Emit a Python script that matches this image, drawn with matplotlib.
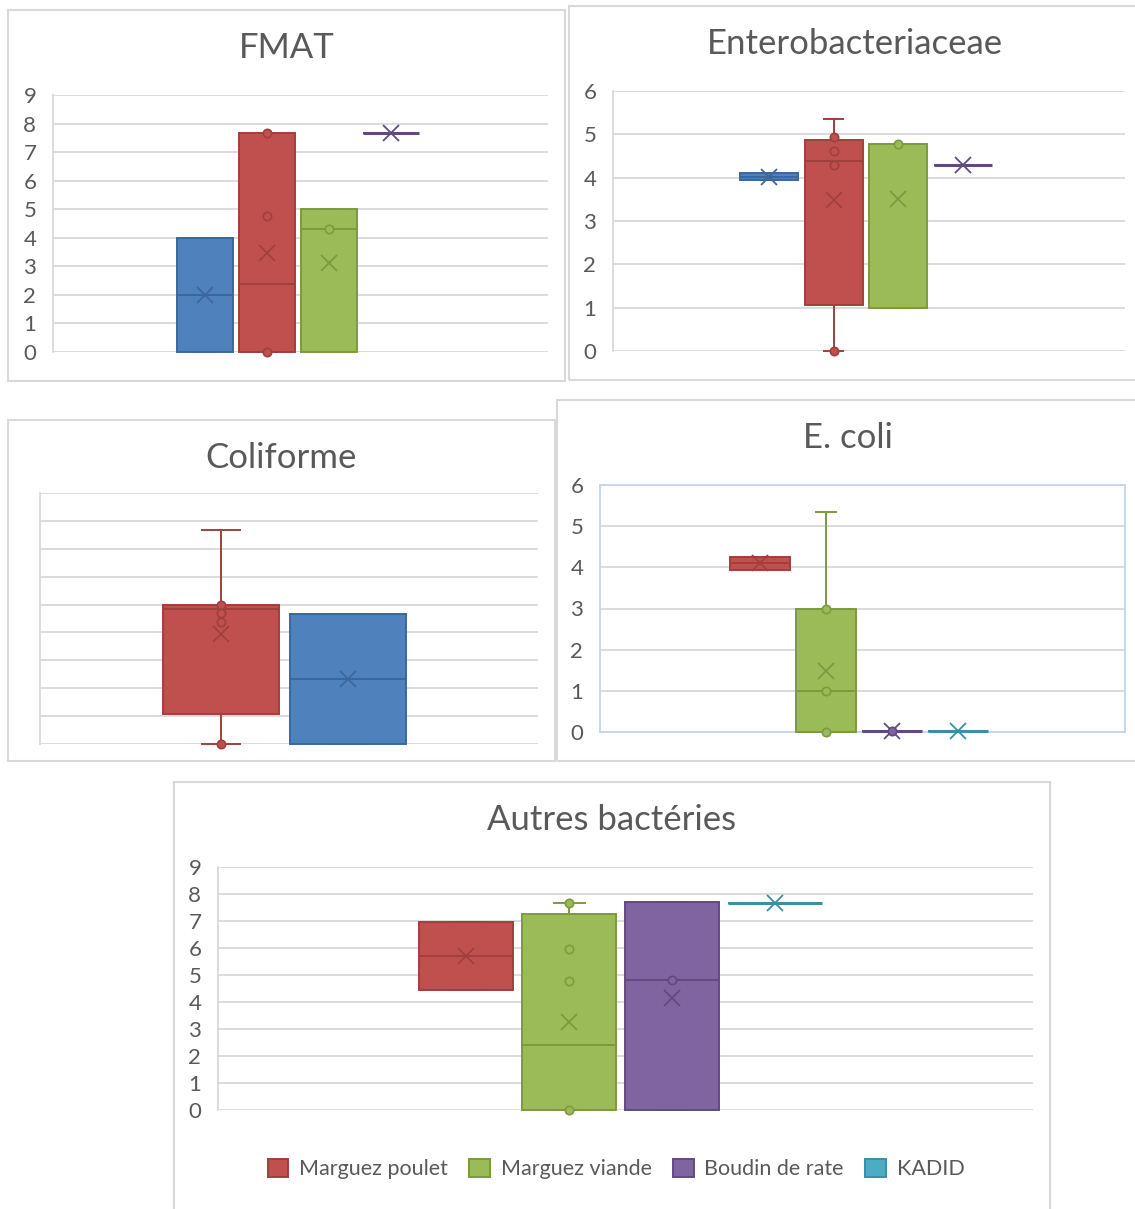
import matplotlib
matplotlib.use("Agg")
import matplotlib.pyplot as plt
from matplotlib.patches import Rectangle, Patch

W, H = 1135, 1209
plt.rcParams["font.family"] = ["Lato", "DejaVu Sans"]

TEXT = "#595959"
GRID = "#D9D9D9"

# fill colour, outline colour
COLORS = {
    "poulet": ("#C0504D", "#A0403D"),
    "viande": ("#9BBB59", "#7C9A3E"),
    "boudin": ("#8064A2", "#614A80"),
    "kadid": ("#4BACC6", "#3A8EA6"),
    "autre": ("#4F81BD", "#3B679C"),
}
legend_keys = ["poulet", "viande", "boudin", "kadid"]
legend_labels = ["Marguez poulet", "Marguez viande", "Boudin de rate", "KADID"]

# FMAT
fmat_series = ["autre", "poulet", "viande", "boudin"]
fmat_q1 = [0.0, 0.0, 0.0, 7.67]
fmat_med = [2.0, 2.37, 4.29, 7.67]
fmat_q3 = [4.0, 7.67, 5.0, 7.67]
fmat_lo = [0.0, 0.0, 0.0, 7.67]
fmat_hi = [4.0, 7.67, 5.0, 7.67]
fmat_mean = [2.0, 3.48, 3.1, 7.67]
fmat_points = [[], [7.67, 4.75, 0.0], [4.29], []]

# Enterobacteriaceae
entero_series = ["autre", "poulet", "viande", "boudin"]
entero_q1 = [3.94, 1.06, 1.0, 4.29]
entero_med = [4.02, 4.38, 4.78, 4.29]
entero_q3 = [4.1, 4.86, 4.78, 4.29]
entero_lo = [3.94, 0.0, 1.0, 4.29]
entero_hi = [4.1, 5.35, 4.78, 4.29]
entero_mean = [4.02, 3.49, 3.5, 4.29]
entero_points = [[], [4.94, 4.62, 4.29, 0.0], [4.78], []]

# Coliforme
colif_series = ["poulet", "autre"]
colif_q1 = [1.09, 0.0]
colif_med = [4.84, 2.34]
colif_q3 = [5.0, 4.65]
colif_lo = [0.0, 0.0]
colif_hi = [7.66, 4.65]
colif_mean = [3.94, 2.34]
colif_points = [[5.0, 4.68, 4.36, 0.0], []]

# E. coli
ecoli_series = ["poulet", "viande", "boudin", "kadid"]
ecoli_q1 = [3.94, 0.0, 0.02, 0.02]
ecoli_med = [4.1, 1.0, 0.02, 0.02]
ecoli_q3 = [4.26, 3.0, 0.02, 0.02]
ecoli_lo = [3.94, 0.0, 0.02, 0.02]
ecoli_hi = [4.26, 5.35, 0.02, 0.02]
ecoli_mean = [4.1, 1.49, 0.02, 0.02]
ecoli_points = [[], [3.0, 1.0, 0.0], [0.02], []]

# Autres bactéries
autres_series = ["poulet", "viande", "boudin", "kadid"]
autres_q1 = [4.43, 0.0, 0.0, 7.66]
autres_med = [5.7, 2.39, 4.82, 7.66]
autres_q3 = [6.98, 7.26, 7.69, 7.66]
autres_lo = [4.43, 0.0, 0.0, 7.66]
autres_hi = [6.98, 7.66, 7.69, 7.66]
autres_mean = [5.69, 3.25, 4.14, 7.66]
autres_points = [[], [7.66, 5.97, 4.76, 0.0], [4.82], []]

fig = plt.figure(figsize=(W / 100, H / 100), dpi=100)


def px_axes(x0, y0, x1, y1):
    return fig.add_axes([x0 / W, 1 - y1 / H, (x1 - x0) / W, (y1 - y0) / H])


def frame(x0, y0, x1, y1):
    fig.add_artist(Rectangle((x0 / W, 1 - y1 / H), (x1 - x0) / W, (y1 - y0) / H,
                             transform=fig.transFigure, fill=False,
                             edgecolor=GRID, linewidth=1.5))


def title(x, y, text):
    fig.text(x / W, 1 - y / H, text, ha="center", va="center",
             fontsize=25, color=TEXT)


def box_chart(ax, series, q1, med, q3, lo, hi, mean, points, ymax,
              width, step, center=0.5, labels=True, spine_color=GRID):
    n = len(series)
    for i, key in enumerate(series):
        face, edge = COLORS[key]
        pos = center + (i - (n - 1) / 2) * step
        lw = 2.2 if q1[i] == q3[i] else 1.4
        stats = [dict(q1=q1[i], med=med[i], q3=q3[i], whislo=lo[i],
                      whishi=hi[i], mean=mean[i], fliers=points[i])]
        arts = ax.bxp(stats, positions=[pos], widths=width,
                      capwidths=width * 0.33, patch_artist=True,
                      showmeans=True, manage_ticks=False,
                      boxprops=dict(facecolor=face, edgecolor=edge, linewidth=lw),
                      medianprops=dict(color=edge, linewidth=1.4),
                      whiskerprops=dict(color=edge, linewidth=1.4),
                      capprops=dict(color=edge, linewidth=1.4),
                      meanprops=dict(marker="x", markeredgecolor=edge,
                                     markersize=12, markeredgewidth=1.3),
                      flierprops=dict(marker="o", markerfacecolor=face,
                                      markeredgecolor=edge, markersize=6,
                                      markeredgewidth=1.2))
        for group in arts.values():
            for a in group:
                a.set_clip_on(False)
                a.set_zorder(3)
    ax.set_xlim(0, 1)
    ax.set_ylim(0, ymax)
    ax.set_yticks(range(ymax + 1))
    ax.set_xticks([])
    ax.set_axisbelow(True)
    ax.yaxis.grid(True, color=GRID, linewidth=1.3)
    ax.tick_params(axis="y", length=0, pad=12, labelsize=16,
                   labelcolor=TEXT, labelleft=labels)
    for side in ["top", "right", "bottom"]:
        ax.spines[side].set_visible(False)
    ax.spines["left"].set_color(spine_color)
    ax.spines["left"].set_linewidth(1.3)


# FMAT
frame(8, 10, 565, 381)
title(287, 48, "FMAT")
ax1 = px_axes(53, 95, 548, 352)
box_chart(ax1, fmat_series, fmat_q1, fmat_med, fmat_q3, fmat_lo, fmat_hi,
          fmat_mean, fmat_points, 9, 0.113, 0.1255, center=0.495)

# Enterobacteriaceae
frame(569, 6, 1140, 380)
title(855, 44, "Enterobacteriaceae")
ax2 = px_axes(613, 91, 1125, 351)
box_chart(ax2, entero_series, entero_q1, entero_med, entero_q3, entero_lo,
          entero_hi, entero_mean, entero_points, 6, 0.113, 0.126,
          center=0.494)

# Coliforme
frame(8, 420, 555, 761)
title(281, 458, "Coliforme")
ax3 = px_axes(40, 493, 538, 744)
box_chart(ax3, colif_series, colif_q1, colif_med, colif_q3, colif_lo,
          colif_hi, colif_mean, colif_points, 9, 0.232, 0.255,
          center=0.491, labels=False)

# E. coli
frame(557, 400, 1140, 761)
title(848, 438, "E. coli")
ax4 = px_axes(600, 485, 1125, 732)
box_chart(ax4, ecoli_series, ecoli_q1, ecoli_med, ecoli_q3, ecoli_lo,
          ecoli_hi, ecoli_mean, ecoli_points, 6, 0.114, 0.126,
          center=0.493, spine_color="#C5D4EC")
for side in ["top", "right", "bottom"]:
    ax4.spines[side].set_visible(True)
    ax4.spines[side].set_color("#C5D4EC")
    ax4.spines[side].set_linewidth(1.3)

# Autres bactéries
frame(174, 782, 1050, 1215)
title(612, 820, "Autres bactéries")
ax5 = px_axes(218, 867, 1033, 1110)
box_chart(ax5, autres_series, autres_q1, autres_med, autres_q3, autres_lo,
          autres_hi, autres_mean, autres_points, 9, 0.1155, 0.1262,
          center=0.494)

handles = [Patch(facecolor=COLORS[k][0], edgecolor=COLORS[k][1], linewidth=1.4)
           for k in legend_keys]
fig.legend(handles, legend_labels, loc="center",
           bbox_to_anchor=(616 / W, 1 - 1169 / H), ncol=4, frameon=False,
           fontsize=15.5, handlelength=0.95, handleheight=0.95,
           handletextpad=0.5, columnspacing=1.0, labelcolor=TEXT)

fig.savefig("out.png", dpi=100)
